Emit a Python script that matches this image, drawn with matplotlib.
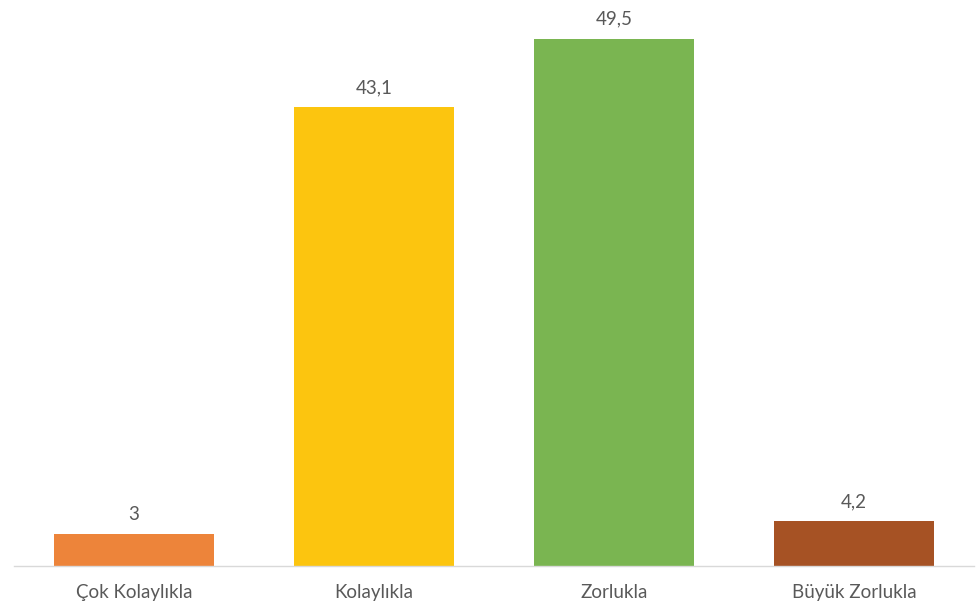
import matplotlib
matplotlib.use("Agg")
import matplotlib.pyplot as plt

categories = ["Çok Kolaylıkla", "Kolaylıkla", "Zorlukla", "Büyük Zorlukla"]
values = [3, 43.1, 49.5, 4.2]
labels = ["3", "43,1", "49,5", "4,2"]
colors = ["#ED843A", "#FCC50F", "#7AB551", "#A65224"]

plt.rcParams['font.family'] = ['Lato', 'DejaVu Sans']

fig = plt.figure(figsize=(9.76, 6.05), dpi=100)
ax = fig.add_axes([14/976, 39/605, 960/976, 566/605])
x = range(len(categories))
bars = ax.bar(x, values, width=0.667, color=colors, zorder=2)
for xi, v, lab in zip(x, values, labels):
    ax.annotate(lab, (xi, v), xytext=(0, 8), textcoords="offset points",
                ha="center", va="bottom", fontsize=13.5, color="#595959")
ax.set_xlim(-0.5, 3.5)
ax.set_ylim(0, 53.15)
ax.set_xticks(list(x))
ax.set_xticklabels(categories, fontsize=13.5, color="#595959")
ax.tick_params(axis='x', length=0, pad=13)
ax.set_yticks([])
for s in ["top", "right", "left"]:
    ax.spines[s].set_visible(False)
ax.spines["bottom"].set_color("#D9D9D9")
ax.spines["bottom"].set_linewidth(1.0)
fig.savefig("out.png", dpi=100)
